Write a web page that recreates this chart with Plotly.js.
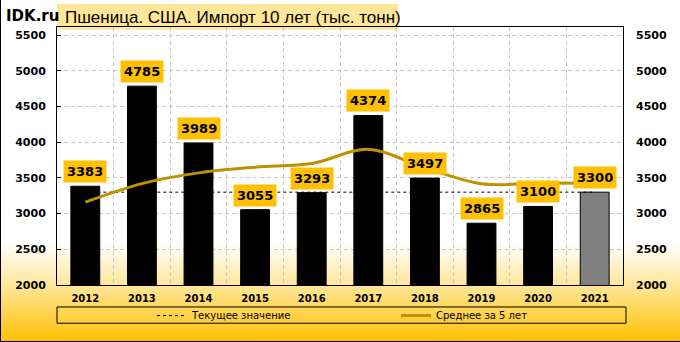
<!DOCTYPE html>
<html>
<head>
<meta charset="utf-8">
<script src="https://cdn.plot.ly/plotly-3.0.1.min.js"></script>
<style>
  html, body { margin: 0; padding: 0; }
  #wrap { position: relative; width: 680px; height: 342px;
    background: linear-gradient(to bottom, #FFFFFF 0%, #FFFFFF 71%, #FFE594 84%, #FFC000 100%); }
  #chart { position: absolute; left: 0; top: 0; width: 680px; height: 342px; }
  #frame { position: absolute; left: 0; top: 0; width: 679px; height: 341px; border-left: 1px solid #000; border-bottom: 1px solid #000; pointer-events: none; }
</style>
</head>
<body>
<div id="wrap"><div id="chart"></div><div id="frame"></div></div>
<script>
const years = ['2012','2013','2014','2015','2016','2017','2018','2019','2020','2021'];
const imports = [3383, 4785, 3989, 3055, 3293, 4374, 3497, 2865, 3100, 3300];
const avg5 = [3160, 3420, 3570, 3650, 3701, 3899, 3642, 3417, 3426, 3427];
const currentValue = 3300;
const barColors = ['#000000','#000000','#000000','#000000','#000000','#000000','#000000','#000000','#000000','#808080'];
const titleText = 'Пшеница. США. Импорт 10 лет (тыс. тонн)';
const legendNames = ['Текущее значение', 'Среднее за 5 лет'];
const yTicks = [2000, 2500, 3000, 3500, 4000, 4500, 5000, 5500];

const W = 680, H = 342, L = 57, R = 57, T = 27, B = 45;
const pw = W - L - R, ph = H - T - B;
const px = v => (v - L) / pw;        // pixel x -> paper
const py = v => (H - B - v) / ph;    // pixel y -> paper

const traces = [
  { type: 'scatter', mode: 'lines', x: years, y: years.map(() => currentValue),
    name: legendNames[0], line: { color: '#000000', width: 1, dash: '3px,3px' },
    hoverinfo: 'skip' },
  { type: 'bar', x: years, y: imports, showlegend: false,
    marker: { color: barColors, line: { color: '#000000', width: 1 } }, hoverinfo: 'skip' },
  { type: 'scatter', mode: 'lines', x: years, y: avg5, yaxis: 'y2',
    name: legendNames[1], line: { color: '#BF9000', width: 3, shape: 'spline', smoothing: 1 },
    hoverinfo: 'skip' }
];

const tickFont = { family: 'DejaVu Sans', size: 11, color: '#000', weight: 'bold' };
const yRange = [2000, 5613];

// category axis: annotation x given as category index
const annotations = years.map((yr, i) => ({
  x: i, y: imports[i], xref: 'x', yref: 'y', yanchor: 'bottom', yshift: 3,
  text: String(imports[i]), showarrow: false, bgcolor: '#FFC000', borderpad: 3,
  font: { family: 'DejaVu Sans', size: 13, color: '#000', weight: 'bold' }
}));
annotations.push({
  xref: 'paper', yref: 'paper', x: px(4), y: py(16), xanchor: 'left', yanchor: 'middle',
  text: 'IDK.ru', showarrow: false,
  font: { family: 'DejaVu Sans', size: 15, color: '#000', weight: 'bold' }
});
annotations.push({
  xref: 'paper', yref: 'paper', x: px(63), y: py(17), xanchor: 'left', yanchor: 'middle',
  text: titleText, showarrow: false,
  font: { family: 'Liberation Sans', size: 17, color: '#000' }
});

const layout = {
  width: W, height: H,
  margin: { l: L, r: R, t: T, b: B, pad: 0 },
  paper_bgcolor: 'rgba(0,0,0,0)', plot_bgcolor: 'rgba(0,0,0,0)',
  showlegend: true,
  bargap: 0.49,
  xaxis: { type: 'category', categoryorder: 'array', categoryarray: years, range: [-0.5, 9.5],
    tickson: 'boundaries', showgrid: true, gridcolor: '#C8C8C8',
    griddash: '4px,3px', gridwidth: 1, ticks: '', showline: true, mirror: true,
    linecolor: '#000', linewidth: 1, tickfont: { family: 'DejaVu Sans', size: 10, color: '#000', weight: 'bold' },
    tickangle: 0, ticklabelstandoff: 4, fixedrange: true },
  yaxis: { range: yRange, tickvals: yTicks, ticktext: yTicks.map(String), showgrid: true,
    gridcolor: '#C8C8C8', griddash: '4px,3px', zeroline: false, showline: true, mirror: true,
    linecolor: '#000', linewidth: 1, ticks: 'inside', ticklen: 4, tickcolor: '#000',
    tickfont: tickFont, ticklabelstandoff: 8, fixedrange: true },
  yaxis2: { overlaying: 'y', side: 'right', range: yRange, tickvals: yTicks, ticktext: yTicks.map(String),
    showgrid: false, zeroline: false, showline: false, ticks: '', tickfont: tickFont,
    ticklabelstandoff: 12, fixedrange: true },
  legend: { orientation: 'h', x: px(152), xanchor: 'left', y: py(329), yanchor: 'middle',
    bgcolor: 'rgba(0,0,0,0)', borderwidth: 0, entrywidth: 199, entrywidthmode: 'pixels',
    font: { family: 'DejaVu Sans', size: 10, color: '#000' }, itemclick: false, itemdoubleclick: false },
  shapes: [
    { type: 'rect', xref: 'paper', yref: 'paper', x0: px(57), x1: px(398), y0: py(3), y1: py(30),
      fillcolor: '#FFE699', line: { width: 0 }, layer: 'below' },
    { type: 'rect', xref: 'paper', yref: 'paper', x0: px(57), x1: px(626), y0: py(320), y1: py(337),
      fillcolor: 'rgba(0,0,0,0)', line: { color: '#000', width: 1 } }
  ],
  annotations: annotations
};

Plotly.newPlot('chart', traces, layout, { displayModeBar: false, staticPlot: true });
</script>
</body>
</html>
